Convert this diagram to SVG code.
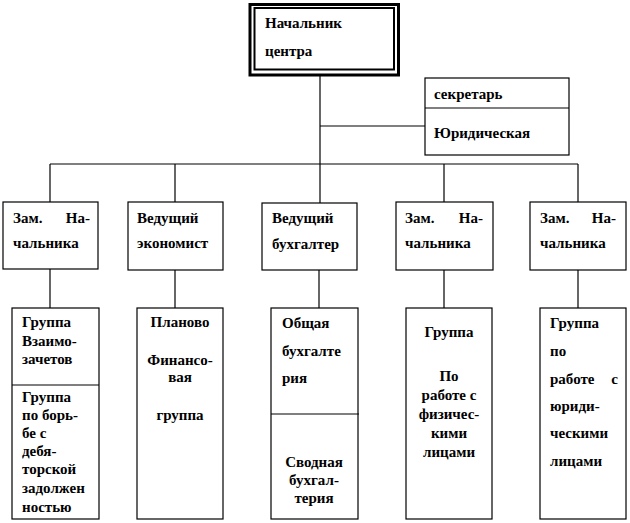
<svg xmlns="http://www.w3.org/2000/svg" width="630" height="523" viewBox="0 0 630 523">
<style>
.b{fill:#fff;stroke:#000;stroke-width:1.2}
.c line{stroke:#000;stroke-width:1.2}
text{font-family:'Liberation Serif','DejaVu Serif',serif;font-size:15px;font-weight:bold;fill:#000}
.m{text-anchor:middle}
.e{text-anchor:end}
</style>
<rect width="630" height="523" fill="#fff"/>
<g class="c" id="connectors">
<line x1="320" y1="71" x2="320" y2="164"/>
<line x1="320" y1="126" x2="425" y2="126"/>
<line x1="50" y1="164" x2="578" y2="164"/>
<line x1="50" y1="164" x2="50" y2="202"/>
<line x1="175" y1="164" x2="175" y2="202"/>
<line x1="320" y1="164" x2="320" y2="203"/>
<line x1="444" y1="164" x2="444" y2="202"/>
<line x1="578" y1="164" x2="578" y2="202"/>
<line x1="50" y1="269" x2="50" y2="308"/>
<line x1="175" y1="270" x2="175" y2="308"/>
<line x1="319" y1="270" x2="319" y2="308"/>
<line x1="444" y1="270" x2="444" y2="308"/>
<line x1="578" y1="270" x2="578" y2="308"/>
</g>
<g id="head">
<rect x="250" y="4.5" width="148.5" height="70.5" fill="#fff" stroke="#000" stroke-width="3"/>
<rect x="254.5" y="8" width="139.5" height="61.5" fill="none" stroke="#000" stroke-width="2"/>
<text x="265" y="28">Начальник</text>
<text x="265" y="56">центра</text>
</g>
<g id="secretary">
<rect class="b" x="425" y="78" width="144" height="77"/>
<line x1="425" y1="108" x2="569" y2="108" stroke="#000" stroke-width="1.2"/>
<text x="434" y="99">секретарь</text>
<text x="434" y="138">Юридическая</text>
</g>
<g id="dep1">
<rect class="b" x="3" y="202" width="95" height="67"/>
<text y="223"><tspan x="13">Зам.</tspan><tspan x="90" class="e">На-</tspan></text>
<text x="13" y="248">чальника</text>
</g>
<g id="dep2">
<rect class="b" x="128" y="202" width="95" height="68"/>
<text x="137" y="223">Ведущий</text>
<text x="137" y="248">экономист</text>
</g>
<g id="dep3">
<rect class="b" x="262" y="203" width="95" height="67"/>
<text x="272" y="223">Ведущий</text>
<text x="272" y="249">бухгалтер</text>
</g>
<g id="dep4">
<rect class="b" x="396" y="202" width="97" height="68"/>
<text y="223"><tspan x="405">Зам.</tspan><tspan x="483" class="e">На-</tspan></text>
<text x="405" y="248">чальника</text>
</g>
<g id="dep5">
<rect class="b" x="530" y="202" width="96" height="68"/>
<text y="223"><tspan x="540">Зам.</tspan><tspan x="616" class="e">На-</tspan></text>
<text x="540" y="248">чальника</text>
</g>
<g id="grp1">
<rect class="b" x="12" y="308" width="87" height="211"/>
<line x1="12" y1="385" x2="99" y2="385" stroke="#000" stroke-width="1.2"/>
<text x="22" y="327">Группа</text>
<text x="22" y="346">Взаимо-</text>
<text x="22" y="364">зачетов</text>
<text x="22" y="402">Группа</text>
<text x="22" y="420">по борь-</text>
<text x="22" y="438">бе с</text>
<text x="22" y="456">дебя-</text>
<text x="22" y="474">торской</text>
<text x="22" y="493">задолжен</text>
<text x="22" y="512">ностью</text>
</g>
<g id="grp2">
<rect class="b" x="137" y="308" width="86" height="211"/>
<text class="m" x="180" y="327">Планово</text>
<text class="m" x="180" y="365">Финансо-</text>
<text class="m" x="180" y="382">вая</text>
<text class="m" x="180" y="420">группа</text>
</g>
<g id="grp3">
<rect class="b" x="271" y="308" width="87" height="211"/>
<line x1="271" y1="414" x2="359" y2="414" stroke="#000" stroke-width="1.2"/>
<text x="282" y="328">Общая</text>
<text x="282" y="356">бухгалте</text>
<text x="282" y="383">рия</text>
<text class="m" x="314" y="467">Сводная</text>
<text class="m" x="314" y="485">бухгал-</text>
<text class="m" x="314" y="503">терия</text>
</g>
<g id="grp4">
<rect class="b" x="406" y="308" width="86" height="211"/>
<text class="m" x="449" y="337">Группа</text>
<text class="m" x="449" y="381">По</text>
<text class="m" x="449" y="400">работе с</text>
<text class="m" x="449" y="419">физичес-</text>
<text class="m" x="449" y="438">кими</text>
<text class="m" x="449" y="457">лицами</text>
</g>
<g id="grp5">
<rect class="b" x="540" y="308" width="86" height="211"/>
<text x="550" y="328">Группа</text>
<text x="550" y="356">по</text>
<text y="384"><tspan x="550">работе</tspan><tspan x="618" class="e">с</tspan></text>
<text x="550" y="411">юриди-</text>
<text x="550" y="438">ческими</text>
<text x="550" y="466">лицами</text>
</g>
</svg>
